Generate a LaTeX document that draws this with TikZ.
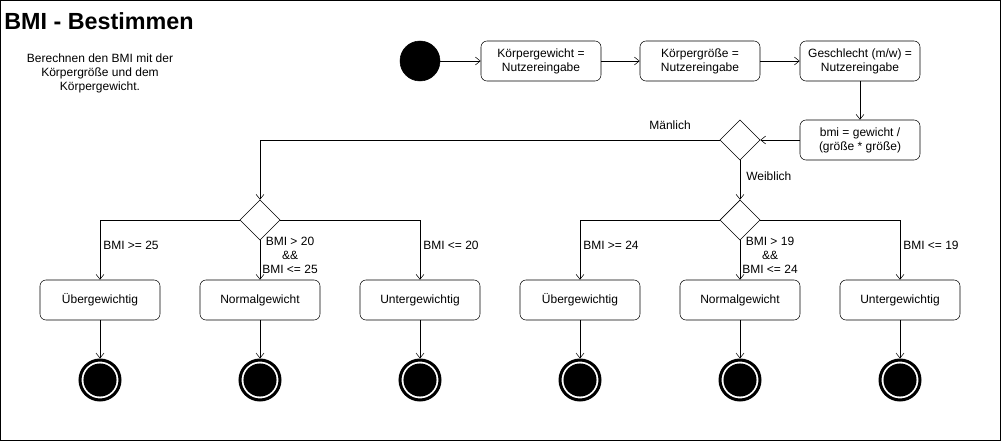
\documentclass[tikz,border=0pt]{standalone}
\usepackage{fontspec}
\setmainfont{Liberation Sans}
\usetikzlibrary{arrows.meta,shapes.geometric}

\begin{document}
\begin{tikzpicture}[x=0.75pt, y=-0.75pt,
    >={Straight Barb[length=3.75pt,width=6pt]},
    every node/.style={font=\fontsize{9}{10.5}\selectfont},
    action/.style={draw, rounded corners=4.5pt, minimum width=90pt, minimum height=30pt, align=center, inner sep=1pt},
    decision/.style={draw, diamond, minimum width=30pt, minimum height=30pt, inner sep=0pt},
    initial/.style={circle, draw, fill=black, minimum size=30pt, inner sep=0pt},
    final/.style={circle, draw, fill=white, line width=2.25pt, minimum size=30pt, inner sep=0pt,
        path picture={\fill[black] (path picture bounding box.center) circle (12.4pt);}},
    guard/.style={inner sep=0pt, align=center}]

    % Page and frame
    \useasboundingbox (0,0) rectangle (1002,442);
    \draw (0.5,0.5) rectangle (1000,440);

    % Title and description
    \node[font=\bfseries\fontsize{17.5}{21}\selectfont, anchor=base west, inner sep=0pt] (title) at (4,30) {BMI - Bestimmen};
    \node[align=center] (desc) at (100,73) {Berechnen den BMI mit der\\Körpergröße und dem\\Körpergewicht.};

    % Input and calculation
    \node[initial] (start) at (420,61) {};
    \node[action] (gewicht) at (541,61) {Körpergewicht =\\Nutzereingabe};
    \node[action] (groesse) at (700,61) {Körpergröße =\\Nutzereingabe};
    \node[action] (geschlecht) at (860,61) {Geschlecht (m/w) =\\Nutzereingabe};
    \node[action] (bmi) at (860,140) {bmi = gewicht /\\(größe * größe)};

    % Decisions
    \node[decision] (sex) at (740,140) {};
    \node[decision] (dm) at (260,220) {};
    \node[decision] (dw) at (740,220) {};

    % Results
    \node[action] (ueberM) at (100,300) {Übergewichtig};
    \node[action] (normalM) at (260,300) {Normalgewicht};
    \node[action] (unterM) at (420,300) {Untergewichtig};
    \node[action] (ueberW) at (580,300) {Übergewichtig};
    \node[action] (normalW) at (740,300) {Normalgewicht};
    \node[action] (unterW) at (900,300) {Untergewichtig};

    % End states
    \foreach \n/\x in {ueberM/100, normalM/260, unterM/420, ueberW/580, normalW/740, unterW/900}
        \node[final] (end\n) at (\x,380) {};

    % Flow
    \draw[->] (start) -- (gewicht);
    \draw[->] (gewicht) -- (groesse);
    \draw[->] (groesse) -- (geschlecht);
    \draw[->] (geschlecht) -- (bmi);
    \draw[->] (bmi) -- (sex);
    \draw[->] (sex.west) -| (dm.north);
    \draw[->] (sex.south) -- (dw.north);
    \foreach \d/\a/\b/\c in {dm/ueberM/normalM/unterM, dw/ueberW/normalW/unterW} {
        \draw[->] (\d.west) -| (\a.north);
        \draw[->] (\d.south) -- (\b.north);
        \draw[->] (\d.east) -| (\c.north);
    }
    \foreach \n in {ueberM, normalM, unterM, ueberW, normalW, unterW}
        \draw[->] (\n) -- (end\n);

    % Guards
    \node[guard] (lmaen) at (670,125) {Mänlich};
    \node[guard, anchor=west] (lweib) at (746,176) {Weiblich};
    \node[guard, anchor=west] (lm1) at (103,245) {BMI >= 25};
    \node[guard] (lm2) at (290,255) {BMI > 20\\\&\&\\BMI <= 25};
    \node[guard, anchor=west] (lm3) at (423,245) {BMI <= 20};
    \node[guard, anchor=west] (lw1) at (583,245) {BMI >= 24};
    \node[guard] (lw2) at (770,255) {BMI > 19\\\&\&\\BMI <= 24};
    \node[guard, anchor=west] (lw3) at (903,245) {BMI <= 19};
\end{tikzpicture}
\end{document}
